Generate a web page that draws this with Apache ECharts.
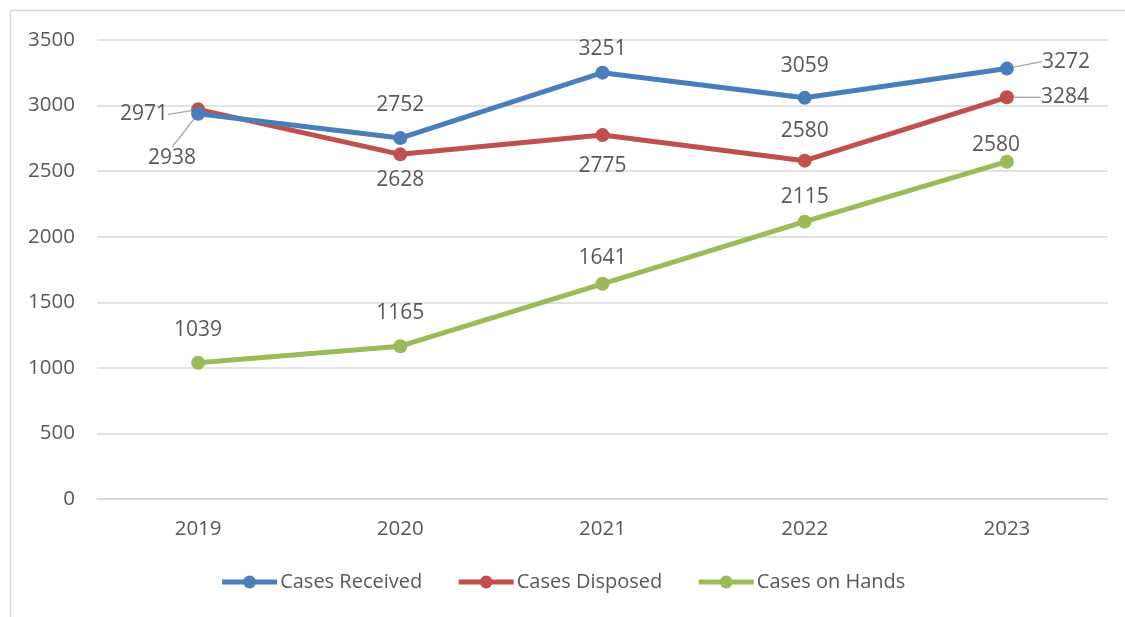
<!DOCTYPE html>
<html>
<head>
<meta charset="utf-8">
<script src="https://cdn.jsdelivr.net/npm/echarts@6/dist/echarts.min.js"></script>
<style>
html,body{margin:0;padding:0;background:#fff;}
#chart{width:1125px;height:617px;}
</style>
</head>
<body>
<div id="chart"></div>
<script>
// ---- data ----
const years = ['2019', '2020', '2021', '2022', '2023'];
const received = [2938, 2752, 3251, 3059, 3282];
const disposed = [2971, 2628, 2775, 2580, 3063];
const onHands = [1039, 1165, 1641, 2115, 2572];
// label texts as printed in the reference
const receivedLabels = ['2938', '2752', '3251', '3059', '3272'];
const disposedLabels = ['2971', '2628', '2775', '2580', '3284'];
const onHandsLabels = ['1039', '1165', '1641', '2115', '2580'];
const yTicks = [0, 500, 1000, 1500, 2000, 2500, 3000, 3500];

// ---- styling / label placement (offsets from the point, px) ----
const labelOffsets = [
  [[-26, 44], [0, -33], [0, -24], [0, -32], [59, -7]],
  [[-54, 5], [0, 26], [0, 31], [0, -30], [58, 0]],
  [[0, -33], [0, -33], [0, -26], [0, -25], [-11, -17]]
];
const leaderLines = [
  [true, false, false, false, true],
  [true, false, false, false, true],
  [false, false, false, false, false]
];
const colors = ['#4A7EBB', '#C0504D', '#9BBB59'];
const names = ['Cases Received', 'Cases Disposed', 'Cases on Hands'];
const values = [received, disposed, onHands];
const labelTexts = [receivedLabels, disposedLabels, onHandsLabels];
const FONT = '"Open Sans", "Noto Sans", sans-serif';
const TXT = '#595959';

const chart = echarts.init(document.getElementById('chart'), null, {renderer: 'canvas'});

const series = values.map((vals, si) => ({
  name: names[si],
  type: 'line',
  data: vals.map((v, i) => ({
    value: v,
    label: {formatter: labelTexts[si][i]},
    labelLine: {show: leaderLines[si][i]}
  })),
  symbol: 'circle',
  symbolSize: 14,
  lineStyle: {width: 5, color: colors[si]},
  itemStyle: {color: colors[si]},
  z: 3 - si + 2,
  label: {
    show: true,
    position: 'inside',
    fontFamily: FONT,
    fontSize: 21,
    color: TXT
  },
  labelLine: {
    show: false,
    lineStyle: {color: '#A6A6A6', width: 1.3}
  },
  labelLayout: function (p) {
    const o = labelOffsets[p.seriesIndex][p.dataIndex];
    return {dx: o[0], dy: o[1]};
  },
  emphasis: {disabled: true},
  animation: false
}));

chart.setOption({
  animation: false,
  backgroundColor: '#fff',
  graphic: [{
    type: 'rect',
    shape: {x: 10.5, y: 10.5, width: 1300, height: 800},
    style: {fill: 'none', stroke: '#D9D9D9', lineWidth: 1.5},
    silent: true
  }],
  grid: {left: 97, right: 17, top: 40, bottom: 118},
  legend: {
    bottom: 20,
    left: 'center',
    itemWidth: 55,
    itemHeight: 16,
    itemGap: 34,
    lineStyle: {width: 5},
    textStyle: {fontFamily: FONT, fontSize: 20, color: TXT, padding: [0, 0, 0, -2]},
    data: names
  },
  xAxis: {
    type: 'category',
    data: years,
    boundaryGap: true,
    axisLine: {show: true, lineStyle: {color: '#D9D9D9', width: 1.5}},
    axisTick: {show: false},
    axisLabel: {fontFamily: FONT, fontSize: 20.5, color: TXT, margin: 20}
  },
  yAxis: {
    type: 'value',
    min: yTicks[0],
    max: yTicks[yTicks.length - 1],
    interval: yTicks[1] - yTicks[0],
    axisLine: {show: false},
    axisTick: {show: false},
    splitLine: {lineStyle: {color: '#D9D9D9', width: 1.5}},
    axisLabel: {fontFamily: FONT, fontSize: 20.5, color: TXT, margin: 22, formatter: v => String(v)}
  },
  series: series
});
</script>
</body>
</html>
